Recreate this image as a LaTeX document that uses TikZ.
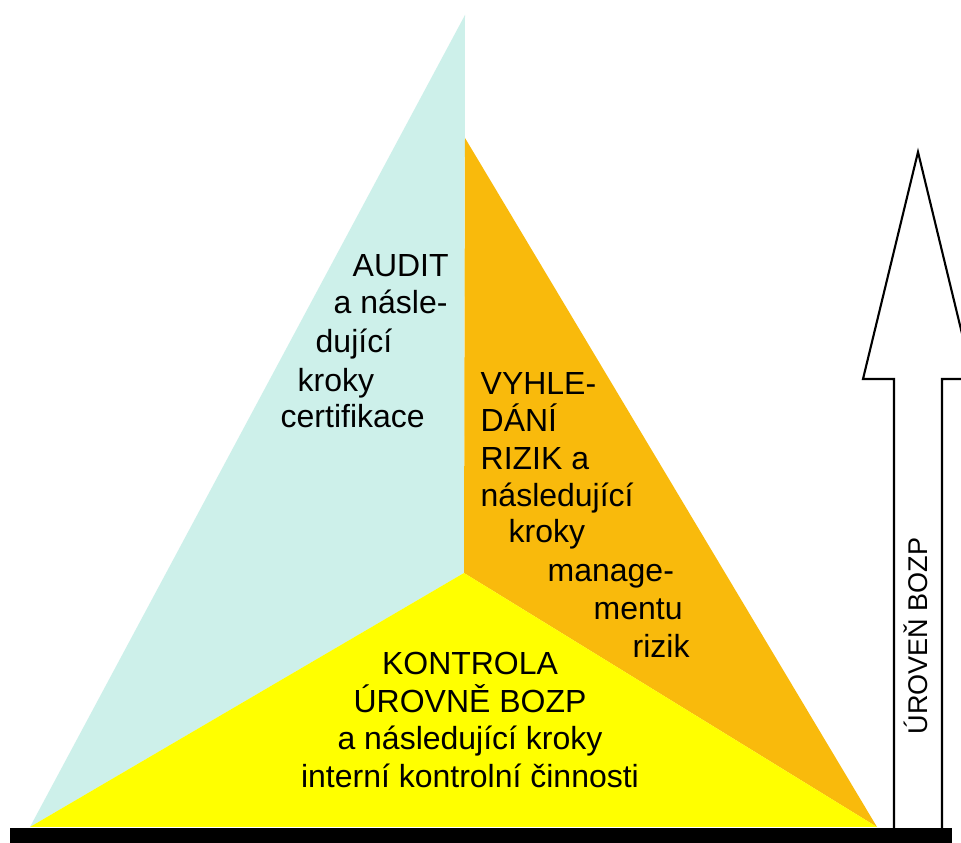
\documentclass[tikz,border=0pt]{standalone}
\usepackage{fontspec}
\setmainfont{Liberation Sans}
\definecolor{auditcyan}{RGB}{205,240,234}
\definecolor{riskorange}{RGB}{249,186,12}
\definecolor{checkyellow}{RGB}{255,255,0}
\begin{document}
\begin{tikzpicture}[
	txt/.style={black, inner sep=0pt, font=\fontsize{9.1}{10.7}\selectfont},
	lvl/.style={black, inner sep=0pt, font=\fontsize{7.7}{9}\selectfont}]
	\path[use as bounding box, fill=white] (0,0) rectangle (9.61,8.43);
	% the three parts of the triangle
	\fill[fill=auditcyan] (4.65,8.28) -- (0.30,0.16) -- (4.64,2.70) -- cycle;
	\fill[fill=riskorange] (4.65,7.05) -- (8.77,0.16) -- (4.64,2.70) -- cycle;
	\fill[fill=checkyellow] (4.64,2.70) -- (0.30,0.16) -- (8.77,0.16) -- cycle;
	\fill[fill=black] (0.10,0.15) rectangle (9.52,0.00);
	% level arrow
	\draw[draw=black, line width=0.6pt, line join=miter] (8.94,0.15) -- (8.94,4.64) -- (8.63,4.64) -- (9.18,6.91) -- (9.73,4.64) -- (9.42,4.64) -- (9.42,0.15);
	\node[lvl, rotate=90] (uroven) at (9.16,2.07) {ÚROVEŇ BOZP};
	% audit
	\node[txt, anchor=base west] (audit1) at (3.52,5.66) {AUDIT};
	\node[txt, anchor=base west] (audit2) at (3.33,5.29) {a násle-};
	\node[txt, anchor=base west] (audit3) at (3.15,4.90) {dující};
	\node[txt, anchor=base west] (audit4) at (2.97,4.51) {kroky};
	\node[txt, anchor=base west] (audit5) at (2.80,4.15) {certifikace};
	% rizika
	\node[txt, anchor=base west] (riz1) at (4.80,4.48) {VYHLE-};
	\node[txt, anchor=base west] (riz2) at (4.80,4.11) {DÁNÍ};
	\node[txt, anchor=base west] (riz3) at (4.80,3.73) {RIZIK a};
	\node[txt, anchor=base west] (riz4) at (4.80,3.36) {následující};
	\node[txt, anchor=base west] (riz5) at (5.08,3.00) {kroky};
	\node[txt, anchor=base west] (riz6) at (5.47,2.61) {manage-};
	\node[txt, anchor=base west] (riz7) at (5.93,2.23) {mentu};
	\node[txt, anchor=base west] (riz8) at (6.32,1.85) {rizik};
	% kontrola
	\node[txt, anchor=base] (kon1) at (4.70,1.68) {KONTROLA};
	\node[txt, anchor=base] (kon2) at (4.70,1.305) {ÚROVNĚ BOZP};
	\node[txt, anchor=base] (kon3) at (4.70,0.93) {a následující kroky};
	\node[txt, anchor=base] (kon4) at (4.70,0.555) {interní kontrolní činnosti};
\end{tikzpicture}
\end{document}
